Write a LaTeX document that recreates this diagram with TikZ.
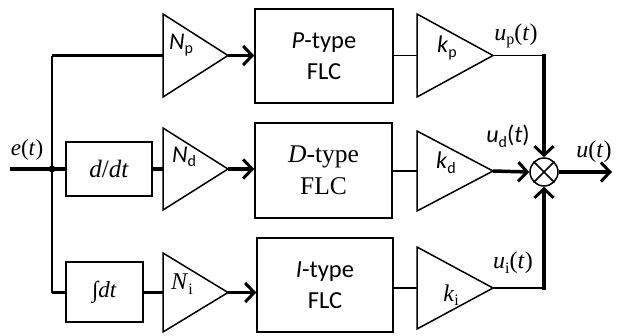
\documentclass[tikz,border=0pt]{standalone}
\usepackage{fontspec}
\setmainfont{Liberation Serif}
\newfontfamily\carl{Carlito}
\usetikzlibrary{arrows.meta}
\newcommand\sbs[1]{\raisebox{-0.4ex}{\fontsize{16}{16}\selectfont #1}}
\tikzset{
  thinl/.style={line width=1.5pt},
  thk/.style={line width=3.5pt},
  arr/.style={thk,-{Straight Barb[length=9pt,width=19pt,line width=3pt]}},
  blk/.style={draw,line width=1.5pt,rectangle,inner sep=0pt,align=center},
  tri/.style={line width=1.5pt,line join=miter},
  lbl/.style={inner sep=0pt},
  bigs/.style={font=\carl\fontsize{24.5}{31}\selectfont},
  bigr/.style={font=\fontsize{25.5}{32}\selectfont},
}
\begin{document}
\begin{tikzpicture}[x=1pt,y=-1pt]
\useasboundingbox (0,0) rectangle (617,335);
% boxes
\node[blk,bigs,minimum width=138pt,minimum height=94pt] (P) at (324,56) {\textit{P}-type\\FLC};
\node[blk,bigr,minimum width=137pt,minimum height=95pt] (D) at (323.5,170.5) {\textit{D}-type\\FLC};
\node[blk,bigs,minimum width=136pt,minimum height=94pt] (I) at (325,285) {\textit{I}-type\\FLC};
\node[blk,minimum width=86pt,minimum height=54pt,font=\fontsize{25}{25}\selectfont] (dd) at (109,169) {\textit{d}/\textit{dt}};
\node[blk,minimum width=77pt,minimum height=60pt,font=\fontsize{23}{23}\selectfont] (in) at (104.5,292) {∫\textit{dt}};
% gain triangles N
\draw[tri] (163,14) -- (228,55.5) -- (163,97) -- cycle;
\coordinate (npi) at (163,55.5); \coordinate (npo) at (228,55.5);
\draw[tri] (163,128) -- (228,169) -- (163,210) -- cycle;
\coordinate (ndi) at (163,169); \coordinate (ndo) at (228,169);
\draw[tri] (163,253) -- (228,292.5) -- (163,332) -- cycle;
\coordinate (nii) at (163,292.5); \coordinate (nio) at (228,292.5);
% gain triangles k
\draw[tri] (417,14) -- (493,55.5) -- (417,97) -- cycle;
\coordinate (kpi) at (417,55.5); \coordinate (kpo) at (493,55.5);
\draw[tri] (417,131) -- (493,171) -- (417,211) -- cycle;
\coordinate (kdi) at (417,171); \coordinate (kdo) at (493,171);
\draw[tri] (417,247) -- (493,288) -- (417,329) -- cycle;
\coordinate (kii) at (417,288); \coordinate (kio) at (493,288);
% triangle labels
\node[lbl,font=\carl\fontsize{24}{24}\selectfont] (Np) at (181,45) {\textit{N}\sbs{p}};
\node[lbl,font=\carl\fontsize{24}{24}\selectfont] (Nd) at (184,157) {\textit{N}\sbs{d}};
\node[lbl,font=\fontsize{24}{24}\selectfont] (Ni) at (182,284) {\textit{N}\sbs{i}};
\node[lbl,font=\carl\fontsize{24}{24}\selectfont] (Kp) at (447,48) {\textit{k}\sbs{p}};
\node[lbl,font=\carl\fontsize{24}{24}\selectfont] (Kd) at (446,163) {\textit{k}\sbs{d}};
\node[lbl,font=\fontsize{24}{24}\selectfont] (Ki) at (451,295) {\textit{k}\sbs{i}};
% summing junction
\node[draw,circle,line width=1.5pt,minimum size=28pt,inner sep=0pt] (S) at (544,172) {};
\draw[thinl] (S.north west) -- (S.south east) (S.north east) -- (S.south west);
% signal labels
\node[lbl,font=\fontsize{23}{23}\selectfont] (et) at (27,150) {\textit{e}(\textit{t})};
\node[lbl,font=\fontsize{24}{24}\selectfont] (upt) at (516,36) {\textit{u}\sbs{p}(\textit{t})};
\node[lbl,font=\carl\fontsize{24}{24}\selectfont] (udt) at (508,136) {\textit{u}\sbs{d}(\textit{t})};
\node[lbl,font=\fontsize{24}{24}\selectfont] (uit) at (513,263) {\textit{u}\sbs{i}(\textit{t})};
\node[lbl,font=\fontsize{24}{24}\selectfont] (ut) at (594,152) {\textit{u}(\textit{t})};
% input and branches
\coordinate (src) at (10,169);
\coordinate (j) at (52,169);
\coordinate (ct) at (52,55.5);
\coordinate (cb) at (52,292.5);
\draw[thk] (src) -- (dd.west);
\fill (j) circle (3.5pt);
\draw[thinl] (ct) -- (cb);
\draw[thk] (ct) -- (npi);
\draw[thk] (cb) -- (in.west |- cb);
\draw[thk] (dd.east) -- (ndi);
\draw[thk] (in.east |- nii) -- (nii);
% N -> FLC
\draw[arr] (npo) -- (P.west |- npo);
\draw[arr] (ndo) -- (D.west |- ndo);
\draw[arr] (nio) -- (I.west |- nio);
% FLC -> k
\draw[thinl] (P.east |- kpi) -- (kpi);
\draw[thinl] (D.east |- kdi) -- (kdi);
\draw[thinl] (I.east |- kii) -- (kii);
% k -> sum
\coordinate (cp) at (544,55.5);
\coordinate (ci) at (544,288);
\draw[thinl] (kpo) -- (cp);
\draw[thinl] (kio) -- (ci);
\draw[arr] ([yshift=1.75pt]cp) -- (S.north);
\draw[arr] ([yshift=-1.75pt]ci) -- (S.south);
\draw[arr] (kdo) -- (S.west);
\coordinate (out) at (612,172);
\draw[arr] (S.east) -- (out);
\end{tikzpicture}
\end{document}
